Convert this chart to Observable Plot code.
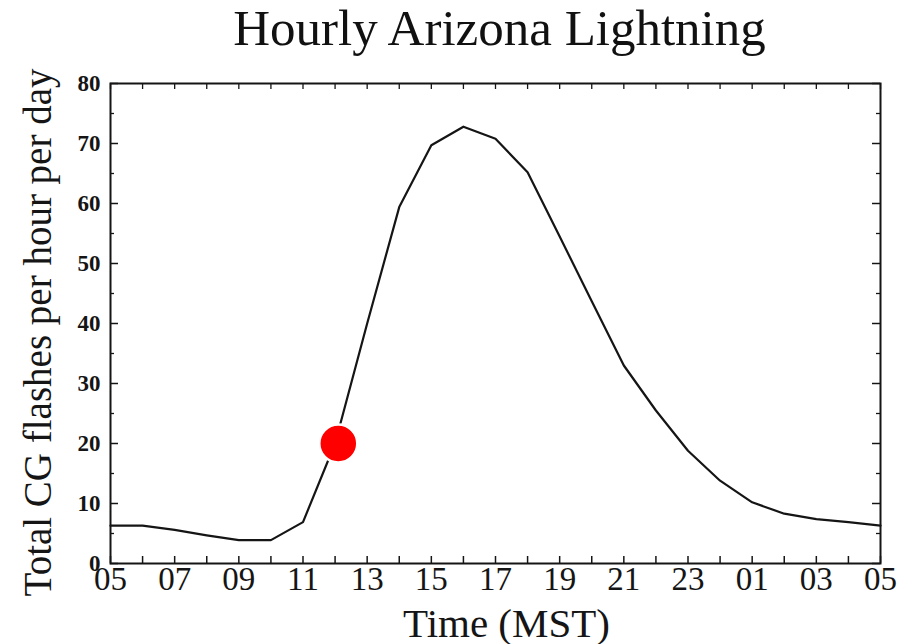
<!DOCTYPE html>
<html>
<head>
<meta charset="utf-8">
<script src="https://cdn.jsdelivr.net/npm/d3@7"></script>
<script src="https://cdn.jsdelivr.net/npm/@observablehq/plot@0.6"></script>
<style>
  html, body { margin: 0; padding: 0; background: #fff; }
  #title { width: 913px; height: 53px; padding-top: 3px; font: 51px/50px "Liberation Serif", serif; text-align: center; color: #111; text-indent: 86px; white-space: nowrap; }
  #chart svg { display: block; }
</style>
</head>
<body>
<div id="title">Hourly Arizona Lightning</div>
<div id="chart"></div>
<script>
// Hour of day (MST), 05 through 05 next day (29 = 05 next day)
const hours = [5, 6, 7, 8, 9, 10, 11, 12, 13, 14, 15, 16, 17, 18, 19, 20, 21, 22, 23, 24, 25, 26, 27, 28, 29];
// Total CG flashes per hour per day
const flashes = [6.3, 6.3, 5.6, 4.7, 3.9, 3.9, 6.9, 20, 40, 59.4, 69.7, 72.8, 70.8, 65.2, 54.5, 43.7, 33, 25.5, 18.8, 13.8, 10.2, 8.3, 7.4, 6.9, 6.3];

const xTickHours = [5, 7, 9, 11, 13, 15, 17, 19, 21, 23, 25, 27, 29];
const xTickLabels = ["05", "07", "09", "11", "13", "15", "17", "19", "21", "23", "01", "03", "05"];
const yTickValues = [0, 10, 20, 30, 40, 50, 60, 70, 80];
const yMinorValues = [5, 15, 25, 35, 45, 55, 65, 75];

// highlighted point
const highlightHour = [12.1];
const highlightValue = [20];

const titleText = "Hourly Arizona Lightning";
const xLabel = "Time (MST)";
const yLabel = "Total CG flashes per hour per day";

const data = hours.map((h, i) => ({hour: h, value: flashes[i]}));
const highlight = highlightHour.map((h, i) => ({hour: h, value: highlightValue[i]}));

const W = 913, H = 588;
const mt = 27, mb = 81, ml = 110, mr = 33;
const ph = H - mt - mb, pw = W - ml - mr;
const ink = "#151515";

const chart = Plot.plot({
  width: W, height: H,
  marginTop: mt, marginBottom: mb, marginLeft: ml, marginRight: mr,
  style: {fontFamily: "'Liberation Serif', serif", background: "transparent", color: ink, overflow: "visible"},
  x: {domain: [5, 29]},
  y: {domain: [0, 80]},
  marks: [
    // inward ticks
    Plot.ruleX(hours, {x: d => d, insetTop: ph - 7, stroke: ink, strokeWidth: 1.5}),
    Plot.ruleX(hours, {x: d => d, insetBottom: ph - 6, stroke: ink, strokeWidth: 1.3}),
    Plot.ruleY(yTickValues, {y: d => d, insetRight: pw - 8, stroke: ink, strokeWidth: 1.5}),
    Plot.ruleY(yMinorValues, {y: d => d, insetRight: pw - 4, stroke: ink, strokeWidth: 1.3}),
    Plot.ruleY(yTickValues, {y: d => d, insetLeft: pw - 8, stroke: ink, strokeWidth: 1.5}),
    Plot.ruleY(yMinorValues, {y: d => d, insetLeft: pw - 4, stroke: ink, strokeWidth: 1.3}),
    Plot.frame({stroke: ink, strokeWidth: 2}),
    Plot.axisX(xTickHours, {
      tickSize: 0, tickPadding: 3, fontSize: 33, label: null,
      tickFormat: d => xTickLabels[xTickHours.indexOf(d)]
    }),
    Plot.axisY(yTickValues, {
      tickSize: 0, tickPadding: 10, fontSize: 23, fontWeight: "bold", label: null
    }),
    Plot.text([xLabel], {text: d => d, frameAnchor: "bottom", lineAnchor: "bottom", dy: 73, dx: 11, fontSize: 41, fill: ink}),
    Plot.text([yLabel], {text: d => d, frameAnchor: "left", textAnchor: "middle", rotate: -90, dx: -72, dy: 9, fontSize: 39, fill: ink}),
    Plot.line(data, {x: "hour", y: "value", stroke: ink, strokeWidth: 2.2}),
    Plot.dot(highlight, {x: "hour", y: "value", r: 19, fill: "#f00", stroke: "#fff", strokeWidth: 2.5,
      style: {filter: "drop-shadow(0px 1px 3px rgba(0,0,0,0.35))"}})
  ]
});
document.getElementById("chart").appendChild(chart);
document.getElementById("title").textContent = titleText;
</script>
</body>
</html>
